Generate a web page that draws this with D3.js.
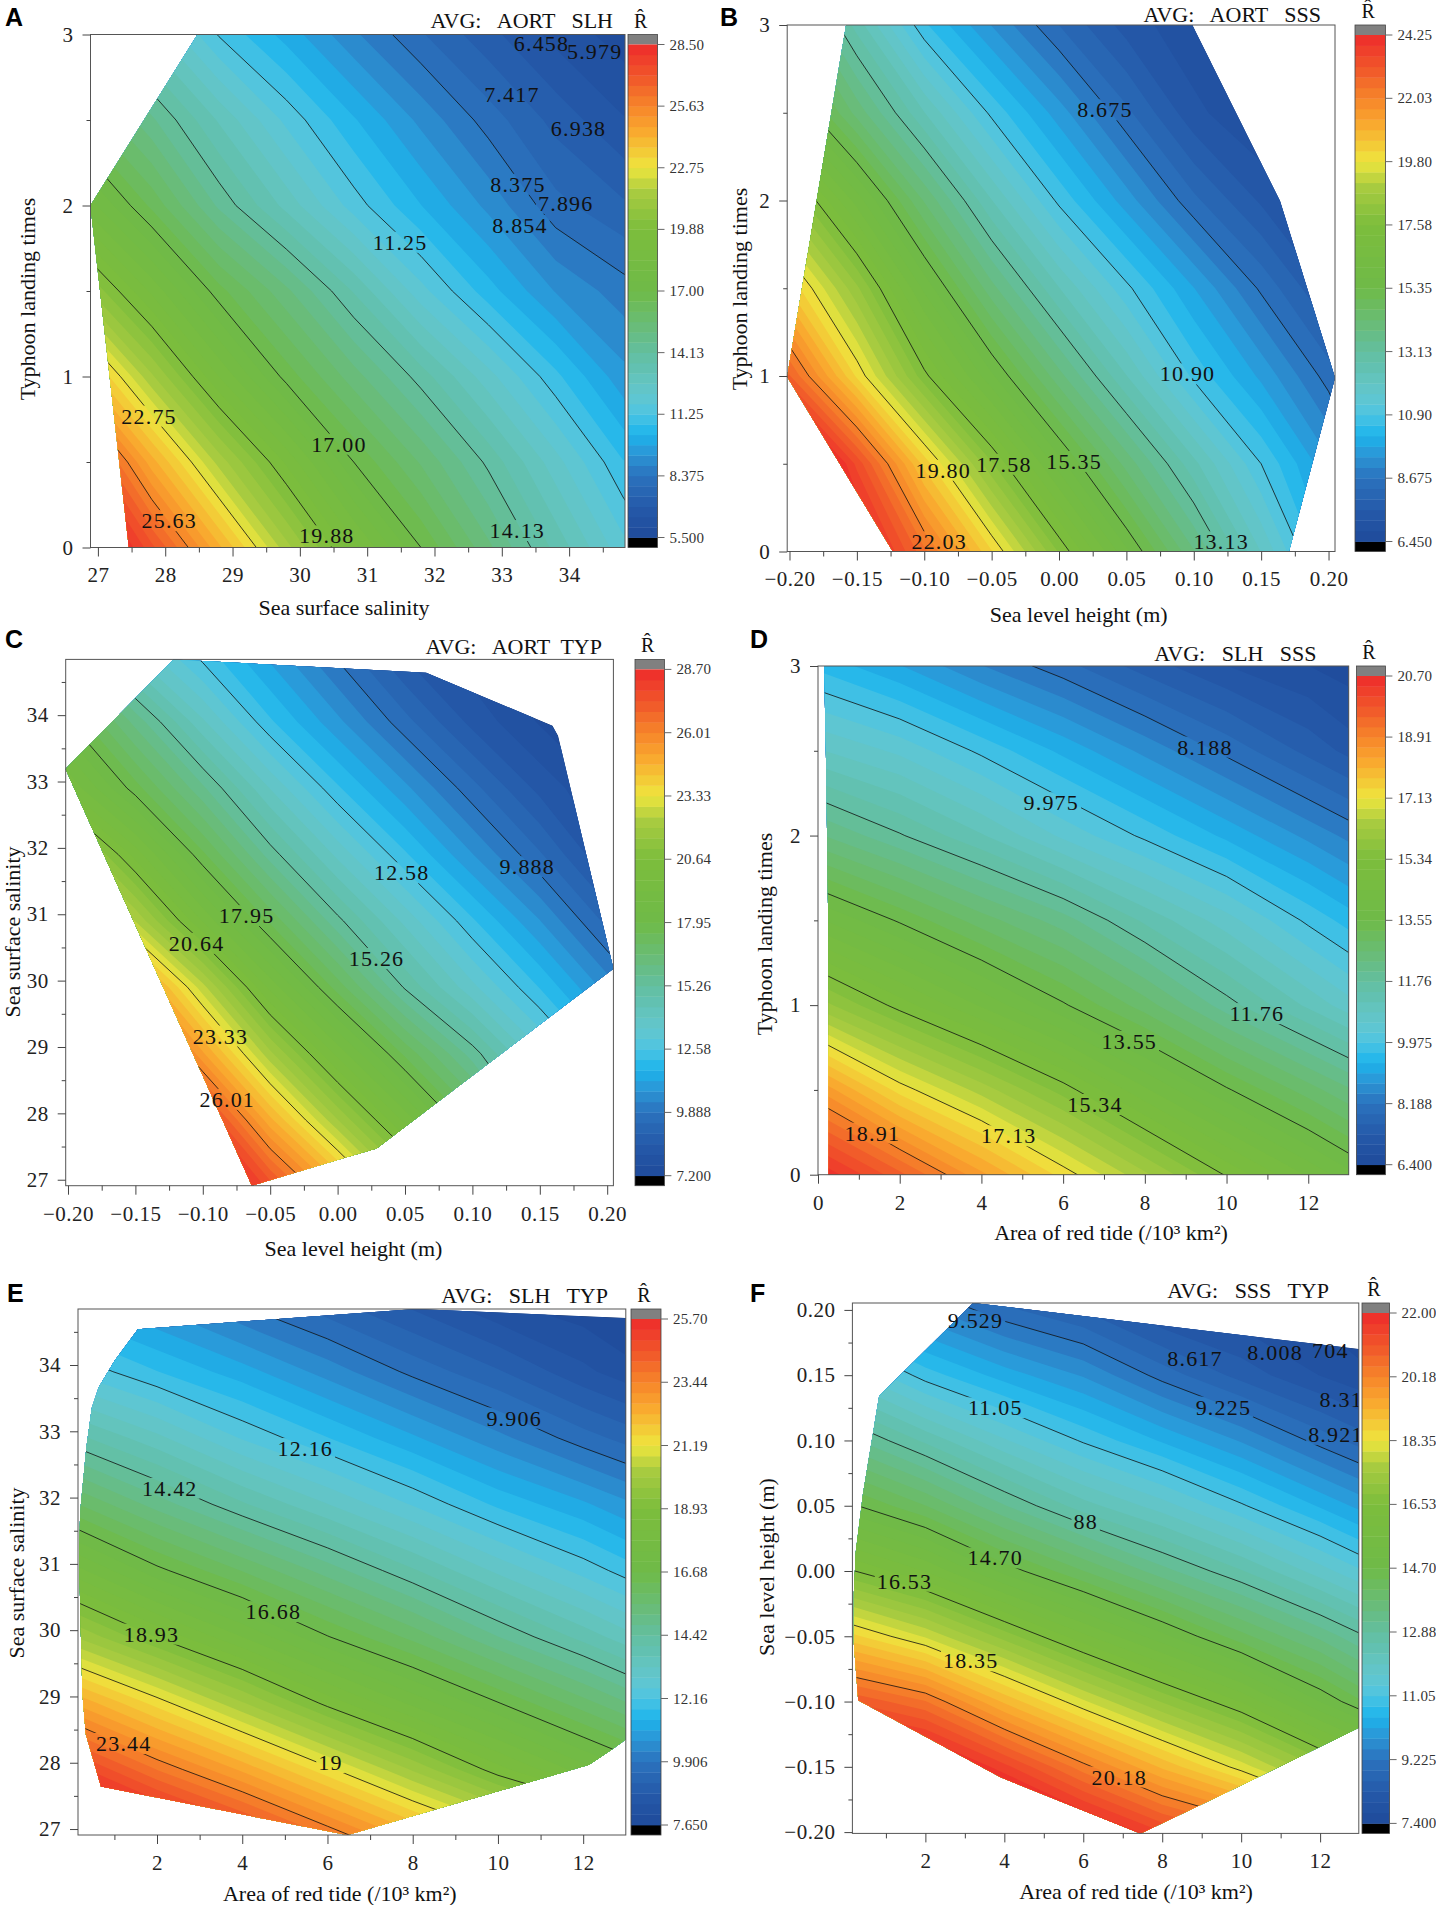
<!DOCTYPE html>
<html>
<head>
<meta charset="utf-8">
<script src="https://cdn.jsdelivr.net/npm/d3@7"></script>
<style>
  body { margin: 0; background: #fff; }
  svg { display: block; }
</style>
</head>
<body>
<svg id="chart" width="1436" height="1905"></svg>
<script>
// ---- data ----
// A: AORT x SLH averaged, x = sea surface salinity, y = typhoon landing times
var aXs = [26.8, 27.8, 28.8, 29.8, 30.8, 31.8, 32.8, 33.8, 34.8]
var aYs = [0, 0.5, 1, 1.5, 2, 2.5, 3]
var aZ = [
  [30.2, 27.2, 24.3, 21.5, 19.1, 17.0, 15.2, 13.5, 11.9],
  [27.8, 24.4, 21.6, 19.3, 17.0, 15.5, 14.0, 12.4, 10.8],
  [24.3, 21.4, 18.9, 16.8, 15.3, 13.9, 12.4, 10.9, 9.5],
  [21.0, 18.8, 16.7, 15.2, 13.6, 11.9, 10.5, 9.3, 8.6],
  [18.3, 16.4, 14.5, 13.0, 11.5, 10.3, 9.2, 8.05, 7.5],
  [16.2, 14.7, 13.1, 11.6, 10.35, 9.2, 8.15, 7.25, 6.5],
  [14.6, 12.9, 11.2, 10.1, 8.95, 7.95, 7.1, 6.3, 5.75]
]
var aRange = [5.5, 28.5]
var aBarLabels = ["5.500", "8.375", "11.25", "14.13", "17.00", "19.88", "22.75", "25.63", "28.50"]
var aHull = [[27.46, 0], [26.89, 2.0], [28.48, 3.0], [34.83, 3.0], [34.83, 0]]
var aLabels = [[33.59, 2.945, "6.458"], [34.38, 2.9, "5.979"], [33.15, 2.647, "7.417"], [34.14, 2.452, "6.938"],
  [33.24, 2.124, "8.375"], [33.95, 2.013, "7.896"], [33.27, 1.884, "8.854"], [31.49, 1.785, "11.25"],
  [27.76, 0.768, "22.75"], [30.58, 0.604, "17.00"], [28.06, 0.157, "25.63"], [30.4, 0.068, "19.88"], [33.23, 0.099, "14.13"]]
var aXTicks = [27, 28, 29, 30, 31, 32, 33, 34]
var aXMinor = [27.5, 28.5, 29.5, 30.5, 31.5, 32.5, 33.5, 34.5]
var aYTicks = [0, 1, 2, 3]
var aYMinor = [0.5, 1.5, 2.5]

// B: AORT x SSS averaged, x = sea level height, y = typhoon landing times
var bXs = [-0.2, -0.15, -0.1, -0.05, 0, 0.05, 0.1, 0.15, 0.2]
var bYs = [0, 0.5, 1, 1.5, 2, 2.5, 3]
var bZ = [
  [27.1, 24.8, 22.5, 20.2, 17.9, 15.8, 13.9, 12.0, 10.1],
  [26.4, 23.4, 20.4, 18.0, 15.9, 14.1, 12.5, 10.9, 9.5],
  [22.8, 20.1, 17.7, 15.8, 14.0, 12.4, 10.8, 9.7, 8.5],
  [20.5, 18.4, 16.0, 14.0, 12.4, 11.0, 9.8, 8.6, 7.5],
  [18.4, 16.3, 14.2, 12.4, 10.8, 9.6, 8.4, 7.5, 6.9],
  [16.0, 14.1, 12.4, 10.8, 9.6, 8.4, 7.3, 6.8, 6.5],
  [14.5, 12.6, 10.6, 9.4, 8.3, 7.4, 6.9, 6.6, 6.4]
]
var bRange = [6.45, 24.25]
var bBarLabels = ["6.450", "8.675", "10.90", "13.13", "15.35", "17.58", "19.80", "22.03", "24.25"]
var bHull = [[-0.1233, 0], [-0.2017, 0.996], [-0.158, 3.0], [0.0989, 3.0], [0.164, 1.997], [0.2048, 0.99], [0.1706, 0]]
var bLabels = [[0.0341, 2.517, "8.675"], [0.0954, 1.012, "10.90"], [-0.0859, 0.463, "19.80"], [-0.0409, 0.497, "17.58"],
  [0.0112, 0.513, "15.35"], [-0.0889, 0.055, "22.03"], [0.1203, 0.055, "13.13"]]
var slhTicks = [-0.2, -0.15, -0.1, -0.05, 0, 0.05, 0.1, 0.15, 0.2]
var slhMinor = [-0.175, -0.125, -0.075, -0.025, 0.025, 0.075, 0.125, 0.175]

// C: AORT x TYP averaged, x = sea level height, y = sea surface salinity
var cXs = [-0.2, -0.15, -0.1, -0.05, 0, 0.05, 0.1, 0.15, 0.2]
var cYs = [26.9, 27.9, 28.9, 29.9, 30.9, 31.9, 32.9, 33.9, 34.9]
var cZ = [
  [32.0, 32.0, 30.0, 27.6, 24.9, 22.0, 19.3, 16.6, 14.0],
  [32.0, 31.5, 28.2, 24.8, 22.0, 19.6, 17.3, 14.9, 12.6],
  [32.0, 28.7, 25.2, 22.1, 19.6, 17.4, 15.5, 13.6, 11.9],
  [28.8, 25.8, 22.6, 19.6, 17.3, 15.2, 13.6, 12.1, 10.6],
  [25.2, 22.4, 19.7, 17.4, 15.4, 13.8, 12.2, 10.8, 9.3],
  [22.5, 20.0, 17.6, 15.5, 13.8, 12.2, 10.8, 9.5, 8.1],
  [19.7, 17.7, 15.8, 13.9, 12.2, 10.9, 9.6, 8.4, 7.6],
  [18.0, 16.0, 14.0, 12.2, 10.9, 9.6, 8.4, 7.6, 7.3],
  [16.1, 13.9, 12.4, 11.1, 9.8, 8.5, 7.8, 7.4, 7.2]
]
var cRange = [7.2, 28.7]
var cBarLabels = ["7.200", "9.888", "12.58", "15.26", "17.95", "20.64", "23.33", "26.01", "28.70"]
var cHull = [[-0.0636, 26.91], [-0.2018, 33.19], [-0.1217, 34.84], [0.0657, 34.64], [0.1594, 33.84], [0.1635, 33.69],
  [0.2046, 30.18], [0.0289, 27.47], [0.0034, 27.32]]
var cLabels = [[0.0476, 31.625, "12.58"], [0.1407, 31.717, "9.888"], [-0.0675, 30.979, "17.95"], [-0.1046, 30.561, "20.64"],
  [0.0289, 30.334, "15.26"], [-0.0869, 29.165, "23.33"], [-0.0818, 28.211, "26.01"]]
var sssTicks = [27, 28, 29, 30, 31, 32, 33, 34]
var sssMinor = [27.5, 28.5, 29.5, 30.5, 31.5, 32.5, 33.5, 34.5]

// D: SLH x SSS averaged, x = area of red tide, y = typhoon landing times
var dXs = [0, 2, 4, 6, 8, 10, 12, 14]
var dYs = [0, 0.5, 1, 1.5, 2, 2.5, 3]
var dZ = [
  [20.7, 19.6, 18.4, 17.3, 16.3, 15.3, 14.4, 13.5],
  [18.6, 17.3, 16.4, 15.5, 14.5, 13.6, 12.8, 12.0],
  [16.1, 15.2, 14.4, 13.6, 12.8, 11.9, 11.1, 10.3],
  [14.2, 13.5, 12.8, 12.2, 11.4, 10.7, 9.9, 9.2],
  [12.4, 11.8, 11.2, 10.5, 9.9, 9.3, 8.7, 8.1],
  [10.9, 10.5, 9.9, 9.3, 8.7, 8.1, 7.5, 6.9],
  [9.6, 9.1, 8.5, 8.0, 7.45, 7.0, 6.7, 6.5]
]
var dRange = [6.4, 20.7]
var dBarLabels = ["6.400", "8.188", "9.975", "11.76", "13.55", "15.34", "17.13", "18.91", "20.70"]
var dHull = [[0.26, 0], [0.25, 1.5], [0.2, 2.4], [0.15, 3.0], [12.99, 3.0], [12.99, 0]]
var dLabels = [[9.47, 2.522, "8.188"], [5.71, 2.194, "9.975"], [10.74, 0.95, "11.76"], [7.62, 0.787, "13.55"],
  [6.78, 0.414, "15.34"], [1.33, 0.245, "18.91"], [4.67, 0.229, "17.13"]]
var dXTicks = [0, 2, 4, 6, 8, 10, 12]
var tideMinor = [1, 3, 5, 7, 9, 11]
var typTicks = [0, 1, 2, 3]
var typMinor = [0.5, 1.5, 2.5]

// E: SLH x TYP averaged, x = area of red tide, y = sea surface salinity
var eXs = [0, 2, 4, 6, 8, 10, 12, 14]
var eYs = [26.9, 27.9, 28.9, 29.9, 30.9, 31.9, 32.9, 33.9, 34.9]
var eZ = [
  [27.6, 26.3, 25.1, 23.8, 22.5, 21.3, 20.4, 19.5],
  [25.2, 23.8, 22.6, 21.3, 20.0, 18.7, 17.6, 16.6],
  [22.7, 21.4, 20.1, 18.8, 17.7, 16.7, 15.7, 14.7],
  [20.1, 18.9, 17.8, 16.7, 15.8, 14.8, 13.9, 13.0],
  [18.0, 16.8, 15.9, 15.0, 14.1, 13.2, 12.4, 11.6],
  [16.0, 15.0, 14.1, 13.3, 12.5, 11.7, 11.1, 10.4],
  [14.2, 13.4, 12.5, 11.8, 11.1, 10.4, 9.7, 9.1],
  [12.5, 11.8, 11.2, 10.5, 9.8, 9.2, 8.5, 7.9],
  [11.2, 10.6, 9.9, 9.3, 8.7, 8.1, 7.8, 7.7]
]
var eRange = [7.65, 25.7]
var eBarLabels = ["7.650", "9.906", "12.16", "14.42", "16.68", "18.93", "21.19", "23.44", "25.70"]
var eHull = [[0.685, 27.64], [0.33, 28.43], [0.25, 29.04], [0.2, 30.28], [0.17, 31.2], [0.2, 31.8], [0.34, 32.74],
  [0.47, 33.35], [0.63, 33.66], [1.0, 34.06], [1.55, 34.54], [8.07, 34.845], [13.0, 34.71], [13.0, 28.35],
  [12.65, 28.19], [12.14, 27.97], [10.65, 27.69], [8.55, 27.3], [6.47, 26.91]]
var eLabels = [[10.38, 33.2, "9.906"], [5.48, 32.74, "12.16"], [2.3, 32.14, "14.42"], [4.73, 30.28, "16.68"],
  [1.87, 29.94, "18.93"], [1.22, 28.29, "23.44"], [6.07, 28.0, "19"]]
var tideTicks = [2, 4, 6, 8, 10, 12]

// F: SSS x TYP averaged, x = area of red tide, y = sea level height
var fXs = [0, 2, 4, 6, 8, 10, 12, 14]
var fYs = [-0.2, -0.15, -0.1, -0.05, 0, 0.05, 0.1, 0.15, 0.2, 0.25]
var fZ = [
  [23.5, 23.5, 23.5, 22.4, 21.4, 20.7, 19.5, 18.5],
  [23.0, 22.6, 21.5, 20.3, 19.2, 18.2, 17.1, 16.0],
  [21.1, 20.5, 19.2, 18.1, 17.1, 16.2, 15.0, 13.9],
  [18.8, 18.0, 17.0, 16.0, 15.1, 14.2, 13.4, 12.5],
  [16.6, 15.9, 14.9, 14.1, 13.3, 12.6, 11.8, 11.0],
  [14.8, 14.1, 13.2, 12.4, 11.8, 11.1, 10.4, 9.7],
  [13.3, 12.5, 11.7, 11.0, 10.4, 9.8, 9.1, 8.5],
  [11.8, 10.9, 10.3, 9.8, 9.1, 8.5, 8.0, 7.6],
  [10.3, 9.6, 9.0, 8.6, 8.0, 7.8, 7.6, 7.45],
  [8.7, 8.3, 7.9, 7.6, 7.5, 7.5, 7.5, 7.45]
]
var fRange = [7.4, 22.0]
var fBarLabels = ["7.400", "9.225", "11.05", "12.88", "14.70", "16.53", "18.35", "20.18", "22.00"]
var fHull = [[3.21, 0.2053], [12.98, 0.17], [12.98, -0.12], [10.42, -0.158], [8.91, -0.18], [7.45, -0.201],
  [3.91, -0.158], [0.3, -0.099], [0.19, -0.056], [0.19, -0.016], [0.24, 0.015], [0.42, 0.059], [0.83, 0.134]]
var fLabels = [[3.27, 0.1916, "9.529"], [8.83, 0.1625, "8.617"], [10.86, 0.1672, "8.008"], [12.26, 0.1688, "704"],
  [12.69, 0.1313, "8.313"], [9.55, 0.1256, "9.225"], [12.4, 0.1047, "8.921"], [3.77, 0.125, "11.05"],
  [6.06, 0.0381, "88"], [3.77, 0.01, "14.70"], [1.47, -0.0078, "16.53"], [3.15, -0.0688, "18.35"], [6.91, -0.1578, "20.18"]]

// colour ramp of the legend (0 = minimum, 1 = maximum)
var colorStops = [0, 0.06, 0.125, 0.17, 0.21, 0.245, 0.27, 0.31, 0.345, 0.375, 0.43, 0.48, 0.5, 0.625, 0.7, 0.75, 0.79, 0.825, 0.875, 0.93, 1]
var colorValues = ["#1f4a9b", "#2559a9", "#2b72bd", "#2b96d6", "#1db4ec", "#45c2e4", "#5cc7d8", "#64c5c4", "#62c1b0",
  "#63bfa0", "#69bc78", "#6dbb56", "#6fba48", "#7cbd3c", "#a8cb40", "#eee63e", "#f5c535", "#f9a82f", "#f6852a",
  "#f15a2a", "#ee2b2b"]

var SERIF = "'Liberation Serif', 'Times New Roman', serif"
var SANS = "'Liberation Sans', Arial, sans-serif"
var svg = d3.select("#chart")
var bandColor = d3.scaleLinear().domain(colorStops).range(colorValues).interpolate(d3.interpolateRgb)
var intFmt = d3.format("d")
var twoFmt = d3.format(".2f")

var panels = [
  { id: "A", xs: aXs, ys: aYs, z: aZ, range: aRange, barLabels: aBarLabels, hull: aHull, labels: aLabels,
    xDomain: [26.89, 34.83], yDomain: [0, 3], box: [90.5, 34.5, 625, 547.5], cb: [628, 657.5],
    xTicks: aXTicks, xMinor: aXMinor, yTicks: aYTicks, yMinor: aYMinor, xFmt: intFmt, yFmt: intFmt,
    title: "AVG:   AORT   SLH", titleX: 613, titleY: 28, xTitle: "Sea surface salinity", xTitlePos: [344, 607],
    yTitle: "Typhoon landing times", yTitlePos: [27.6, 299], letterPos: [5, 26] },
  { id: "B", xs: bXs, ys: bYs, z: bZ, range: bRange, barLabels: bBarLabels, hull: bHull, labels: bLabels,
    xDomain: [-0.2017, 0.2048], yDomain: [0, 3], box: [787.2, 25, 1335, 551.5], cb: [1355, 1385.4],
    xTicks: slhTicks, xMinor: slhMinor, yTicks: typTicks, yMinor: typMinor, xFmt: twoFmt, yFmt: intFmt,
    title: "AVG:   AORT   SSS", titleX: 1321, titleY: 22, xTitle: "Sea level height (m)", xTitlePos: [1078.7, 614.8],
    yTitle: "Typhoon landing times", yTitlePos: [739, 289], letterPos: [720, 26] },
  { id: "C", xs: cXs, ys: cYs, z: cZ, range: cRange, barLabels: cBarLabels, hull: cHull, labels: cLabels,
    xDomain: [-0.2017, 0.2046], yDomain: [26.91, 34.84], box: [65.7, 659.4, 613.4, 1185.7], cb: [635, 664.4],
    xTicks: slhTicks, xMinor: slhMinor, yTicks: sssTicks, yMinor: sssMinor, xFmt: twoFmt, yFmt: intFmt,
    title: "AVG:   AORT  TYP", titleX: 602, titleY: 654, xTitle: "Sea level height (m)", xTitlePos: [353.5, 1248],
    yTitle: "Sea surface salinity", yTitlePos: [12.5, 932], letterPos: [5, 648] },
  { id: "D", xs: dXs, ys: dYs, z: dZ, range: dRange, barLabels: dBarLabels, hull: dHull, labels: dLabels,
    xDomain: [0, 12.99], yDomain: [0, 3], box: [818, 666, 1348.7, 1174.7], cb: [1356.5, 1385.4],
    xTicks: dXTicks, xMinor: tideMinor, yTicks: typTicks, yMinor: typMinor, xFmt: intFmt, yFmt: intFmt,
    title: "AVG:   SLH   SSS", titleX: 1316.5, titleY: 661, xTitle: "Area of red tide (/10³ km²)", xTitlePos: [1111, 1232],
    yTitle: "Typhoon landing times", yTitlePos: [764, 934], letterPos: [750, 648] },
  { id: "E", xs: eXs, ys: eYs, z: eZ, range: eRange, barLabels: eBarLabels, hull: eHull, labels: eLabels,
    xDomain: [0.146, 13.0], yDomain: [26.91, 34.845], box: [78, 1309, 625.8, 1835], cb: [631, 661],
    xTicks: tideTicks, xMinor: tideMinor, yTicks: sssTicks, yMinor: sssMinor, xFmt: intFmt, yFmt: intFmt,
    title: "AVG:   SLH   TYP", titleX: 608, titleY: 1303, xTitle: "Area of red tide (/10³ km²)", xTitlePos: [339.8, 1893],
    yTitle: "Sea surface salinity", yTitlePos: [16, 1573], letterPos: [7, 1302] },
  { id: "F", xs: fXs, ys: fYs, z: fZ, range: fRange, barLabels: fBarLabels, hull: fHull, labels: fLabels,
    xDomain: [0.151, 12.98], yDomain: [-0.201, 0.2053], box: [852.4, 1303, 1358.8, 1833.4], cb: [1362, 1389.6],
    xTicks: tideTicks, xMinor: tideMinor, yTicks: slhTicks, yMinor: slhMinor, xFmt: intFmt, yFmt: twoFmt,
    title: "AVG:   SSS   TYP", titleX: 1329, titleY: 1298, xTitle: "Area of red tide (/10³ km²)", xTitlePos: [1136, 1891],
    yTitle: "Sea level height (m)", yTitlePos: [766.5, 1567], letterPos: [750, 1302] }
]

function styleAxis(sel) {
  sel.select(".domain").remove()
  sel.selectAll("line").attr("stroke", "#444")
  sel.selectAll("text")
    .attr("font-family", SERIF)
    .attr("font-size", 21)
    .attr("letter-spacing", 0.5)
    .attr("fill", "#222")
}

function drawPanel(p) {
  var left = p.box[0], top = p.box[1], right = p.box[2], bottom = p.box[3]
  var x = d3.scaleLinear().domain(p.xDomain).range([left, right])
  var y = d3.scaleLinear().domain(p.yDomain).range([bottom, top])
  var lo = p.range[0], hi = p.range[1], nb = 48
  var bandThr = d3.range(nb + 1).map(k => lo + k * (hi - lo) / nb)
  var lineThr = d3.range(1, 8).map(k => lo + k * (hi - lo) / 8)
  var nx = p.xs.length, ny = p.ys.length
  var sx = p.xs[1] - p.xs[0], sy = p.ys[1] - p.ys[0]
  var grid = p.z.flat()

  // contour grid units -> pixels
  var toPx = d3.geoTransform({
    point: function(px, py) {
      this.stream.point(x(p.xs[0] + (px - 0.5) * sx), y(p.ys[0] + (py - 0.5) * sy))
    }
  })
  var path = d3.geoPath(toPx)
  var hullPts = p.hull.map(d => [x(d[0]), y(d[1])].join(",")).join(" ")

  var defs = svg.append("defs")
  defs.append("clipPath").attr("id", "box" + p.id)
    .append("rect").attr("x", left).attr("y", top).attr("width", right - left).attr("height", bottom - top)
  defs.append("clipPath").attr("id", "hull" + p.id)
    .append("polygon").attr("points", hullPts)

  var g = svg.append("g")
  var inner = g.append("g").attr("clip-path", "url(#box" + p.id + ")")
    .append("g").attr("clip-path", "url(#hull" + p.id + ")")

  inner.append("polygon").attr("points", hullPts).attr("fill", "#000")

  var bands = d3.contours().size([nx, ny]).thresholds(bandThr)(grid)
  inner.selectAll("path.band")
    .data(bands)
    .join("path")
    .attr("class", "band")
    .attr("d", path)
    .attr("fill", (d, i) => i < nb ? bandColor((i + 0.5) / nb) : "#808080")

  // labels first so their boxes can cut the contour lines
  var labG = g.append("g").attr("clip-path", "url(#box" + p.id + ")")
  var labs = labG.selectAll("text")
    .data(p.labels)
    .join("text")
    .attr("x", d => x(d[0]))
    .attr("y", d => y(d[1]))
    .attr("text-anchor", "middle")
    .attr("dominant-baseline", "central")
    .attr("font-family", SERIF)
    .attr("font-size", 22)
    .attr("letter-spacing", 1.2)
    .attr("fill", "#111")
    .text(d => d[2])

  var mask = defs.append("mask").attr("id", "mask" + p.id)
    .attr("maskUnits", "userSpaceOnUse")
    .attr("x", left - 5).attr("y", top - 5).attr("width", right - left + 10).attr("height", bottom - top + 10)
  mask.append("rect").attr("x", left - 5).attr("y", top - 5)
    .attr("width", right - left + 10).attr("height", bottom - top + 10).attr("fill", "#fff")
  labs.each(function() {
    var b = this.getBBox()
    mask.append("rect").attr("x", b.x - 2).attr("y", b.y + 2).attr("width", b.width + 4).attr("height", b.height - 4).attr("fill", "#000")
  })

  var lines = d3.contours().size([nx, ny]).thresholds(lineThr)(grid)
  inner.append("g").attr("mask", "url(#mask" + p.id + ")")
    .selectAll("path")
    .data(lines)
    .join("path")
    .attr("d", path)
    .attr("fill", "none")
    .attr("stroke", "#111")
    .attr("stroke-width", 0.8)

  labG.raise()

  g.append("rect")
    .attr("x", left).attr("y", top).attr("width", right - left).attr("height", bottom - top)
    .attr("fill", "none").attr("stroke", "#555").attr("stroke-width", 1)

  // axes
  g.append("g").attr("transform", "translate(0," + bottom + ")")
    .call(d3.axisBottom(x).tickValues(p.xTicks).tickSize(9).tickPadding(11).tickFormat(p.xFmt))
    .call(styleAxis)
  g.append("g").attr("transform", "translate(0," + bottom + ")")
    .call(d3.axisBottom(x).tickValues(p.xMinor).tickSize(5).tickFormat(""))
    .call(styleAxis)
  g.append("g").attr("transform", "translate(" + left + ",0)")
    .call(d3.axisLeft(y).tickValues(p.yTicks).tickSize(8).tickPadding(9).tickFormat(p.yFmt))
    .call(styleAxis)
  g.append("g").attr("transform", "translate(" + left + ",0)")
    .call(d3.axisLeft(y).tickValues(p.yMinor).tickSize(4).tickFormat(""))
    .call(styleAxis)

  // colour bar
  var cbL = p.cb[0], cbR = p.cb[1]
  var in0 = top + 10, in1 = bottom - 10
  var cy = d3.scaleLinear().domain([lo, hi]).range([in1, in0])
  g.append("rect").attr("x", cbL).attr("y", top).attr("width", cbR - cbL).attr("height", in0 - top).attr("fill", "#808080")
  g.append("rect").attr("x", cbL).attr("y", in1).attr("width", cbR - cbL).attr("height", bottom - in1).attr("fill", "#000")
  g.append("g").selectAll("rect")
    .data(d3.range(nb))
    .join("rect")
    .attr("x", cbL)
    .attr("y", k => cy(bandThr[k + 1]))
    .attr("width", cbR - cbL)
    .attr("height", k => cy(bandThr[k]) - cy(bandThr[k + 1]) + 0.4)
    .attr("fill", k => bandColor((k + 0.5) / nb))
  g.append("rect").attr("x", cbL).attr("y", top).attr("width", cbR - cbL).attr("height", bottom - top)
    .attr("fill", "none").attr("stroke", "#444").attr("stroke-width", 0.8)

  var cbTicks = g.append("g").selectAll("g")
    .data(p.barLabels)
    .join("g")
    .attr("transform", (d, k) => "translate(" + cbR + "," + cy(lo + k * (hi - lo) / 8) + ")")
  cbTicks.append("line").attr("x1", 0).attr("x2", 7).attr("stroke", "#666")
  cbTicks.append("text")
    .attr("x", 12)
    .attr("dominant-baseline", "central")
    .attr("font-family", SERIF)
    .attr("font-size", 15)
    .attr("letter-spacing", 0.2)
    .attr("fill", "#333")
    .text(d => d)

  // texts
  g.append("text")
    .attr("x", (cbL + cbR) / 2 - 2).attr("y", top - 7)
    .attr("text-anchor", "middle")
    .attr("font-family", SERIF).attr("font-size", 20).attr("fill", "#111")
    .text("R\u0302")
  g.append("text")
    .attr("x", p.titleX).attr("y", p.titleY)
    .attr("text-anchor", "end")
    .attr("xml:space", "preserve")
    .style("white-space", "pre")
    .attr("font-family", SERIF).attr("font-size", 22).attr("fill", "#111")
    .text(p.title)
  g.append("text")
    .attr("x", p.xTitlePos[0]).attr("y", p.xTitlePos[1])
    .attr("text-anchor", "middle").attr("dominant-baseline", "central")
    .attr("font-family", SERIF).attr("font-size", 22).attr("fill", "#111")
    .text(p.xTitle)
  g.append("text")
    .attr("transform", "translate(" + p.yTitlePos[0] + "," + p.yTitlePos[1] + ") rotate(-90)")
    .attr("text-anchor", "middle").attr("dominant-baseline", "central")
    .attr("font-family", SERIF).attr("font-size", 22).attr("fill", "#111")
    .text(p.yTitle)
  g.append("text")
    .attr("x", p.letterPos[0]).attr("y", p.letterPos[1])
    .attr("font-family", SANS).attr("font-weight", "bold").attr("font-size", 25).attr("fill", "#000")
    .text(p.id)
}

panels.forEach(drawPanel)
</script>
</body>
</html>
